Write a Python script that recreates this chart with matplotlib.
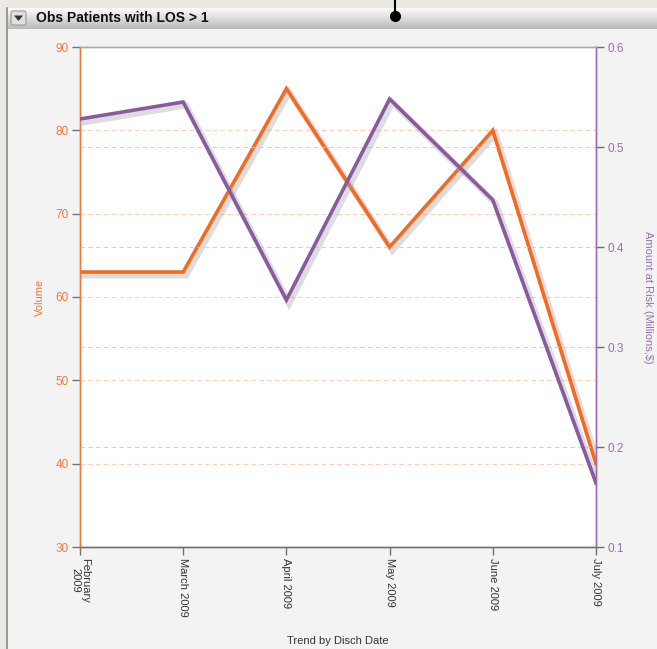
import matplotlib
matplotlib.use("Agg")
import matplotlib.pyplot as plt
from matplotlib.patches import Rectangle, FancyBboxPatch, Polygon
import matplotlib.patheffects as pe
import numpy as np

months = ["February\n2009", "March 2009", "April 2009", "May 2009", "June 2009", "July 2009"]
volume = [63, 63, 85, 66, 80, 40]
amount_at_risk = [0.528, 0.545, 0.347, 0.548, 0.447, 0.164]
volume_ticks = [30, 40, 50, 60, 70, 80, 90]
amount_ticks = [0.1, 0.2, 0.3, 0.4, 0.5, 0.6]

ORANGE = "#f26b21"
ORANGE_TXT = "#f07a3a"
PURPLE = "#8a5aa0"
PURPLE_TXT = "#9a6fb0"
GRAY = "#707070"

plt.rcParams["font.family"] = ["Liberation Sans", "DejaVu Sans"]

W, H = 657, 649
fig = plt.figure(figsize=(W / 100, H / 100), dpi=100)
fig.patch.set_facecolor("#ece9e4")

# panel chrome drawn in figure pixel coordinates
bg = fig.add_axes([0, 0, 1, 1])
bg.set_xlim(0, W)
bg.set_ylim(H, 0)
bg.axis("off")
bg.add_patch(Rectangle((7, 8), W - 7, H - 8, facecolor="#f3f3f3", edgecolor="none"))
bg.plot([7, 7], [8, H], color="#8a8a8a", lw=1.2)
# title bar with vertical gradient
grad = np.linspace(0, 1, 50).reshape(-1, 1)
bg.imshow(grad, extent=(8, W, 29, 8), cmap=matplotlib.colors.LinearSegmentedColormap.from_list(
    "bar", ["#fbfbfb", "#dcdcdc", "#b9b9b9"]), aspect="auto", zorder=1)
bg.add_patch(FancyBboxPatch((11, 11), 15, 14, boxstyle="round,pad=0,rounding_size=2",
                            facecolor="#e0e0e0", edgecolor="#9a9a9a", lw=0.8, zorder=2))
bg.add_patch(Polygon([[14, 15.5], [23, 15.5], [18.5, 21]], closed=True,
                     facecolor="#333333", edgecolor="none", zorder=3))
bg.text(36, 18, "Obs Patients with LOS > 1", fontsize=10, fontweight="bold",
        color="#111111", va="center", ha="left", zorder=3)
bg.plot([395, 395], [0, 16], color="black", lw=1.5, zorder=3)
bg.plot([395], [16], "o", color="black", ms=7, zorder=4)
bg.text(338, 641, "Trend by Disch Date", fontsize=8, color="#333333", ha="center", va="center")
bg.set_xlim(0, W)
bg.set_ylim(H, 0)

# main chart
left, right, top, bottom = 80, 596, 47, 547
ax = fig.add_axes([left / W, 1 - bottom / H, (right - left) / W, (bottom - top) / H])
ax.set_facecolor("white")
x = np.arange(len(months))
ax.set_xlim(0, len(months) - 1)
ax.set_ylim(30, 90)
ax2 = ax.twinx()
ax2.set_ylim(0.1, 0.6)

# dashed gridlines for each axis
for v in volume_ticks[1:-1]:
    ax.axhline(v, color="#fcd0b4", lw=0.8, ls=(0, (4, 3)), zorder=0)
for v in amount_ticks[1:-1]:
    ax2.axhline(v, color="#dcc8e8", lw=0.8, ls=(0, (4, 3)), zorder=0)

shadow = [pe.SimpleLineShadow(offset=(2, -2.5), shadow_color="#a0a0a0", alpha=0.35, linewidth=4.5), pe.Normal()]
ax.plot(x, volume, color=ORANGE, lw=2.6, zorder=3, path_effects=shadow, solid_joinstyle="miter")
ax2.plot(x, amount_at_risk, color=PURPLE, lw=2.6, zorder=3, path_effects=shadow, solid_joinstyle="miter")

ax.set_xticks(x)
ax.set_xticklabels(months, rotation=270, fontsize=8, color="#333333", va="top", ha="center",
                   linespacing=1.0)
ax.set_yticks(volume_ticks)
ax.set_yticklabels([str(v) for v in volume_ticks], fontsize=8.5, color=ORANGE_TXT)
ax2.set_yticks(amount_ticks)
ax2.set_yticklabels([f"{v:.1f}" for v in amount_ticks], fontsize=8.5, color=PURPLE_TXT)

for a in (ax, ax2):
    a.tick_params(axis="both", length=6, width=1, color=GRAY, pad=2)
    a.spines["top"].set_color("#a8a8a8")
    a.spines["bottom"].set_color(GRAY)
    a.spines["left"].set_color(ORANGE_TXT)
    a.spines["right"].set_color(PURPLE_TXT)
    for s in a.spines.values():
        s.set_linewidth(1)

ax.set_ylabel("Volume", fontsize=8, color=ORANGE_TXT)
ax.yaxis.set_label_coords((45 - left) / (right - left), 0.5)
ax2.set_ylabel("Amount at Risk (Millions,$)", fontsize=8, color=PURPLE_TXT, rotation=270,
               va="center")
ax2.yaxis.set_label_coords((648 - left) / (right - left), 0.5)

fig.savefig("out.png", dpi=100, facecolor=fig.get_facecolor())
